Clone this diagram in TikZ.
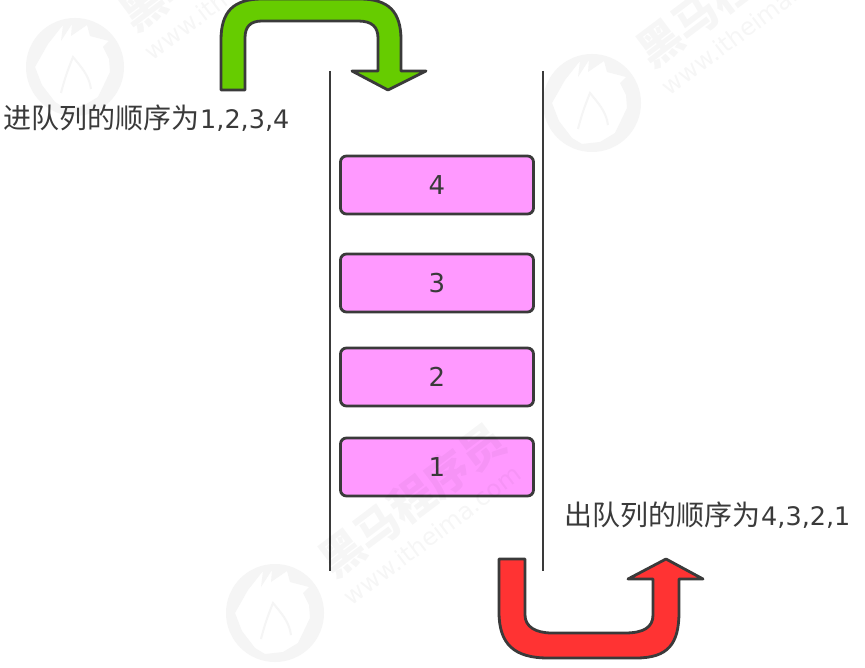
\documentclass[tikz,border=0pt]{standalone}
\usepackage{fontspec}
\setmainfont{DejaVu Sans}
\newfontfamily\cjk{Noto Sans CJK SC}
\definecolor{ink}{HTML}{3A3A3A}
\definecolor{boxpink}{HTML}{FF99FF}
\definecolor{arrgreen}{HTML}{66CC00}
\definecolor{arrred}{HTML}{FF3333}
\definecolor{wmgray}{HTML}{F5F5F5}
\tikzset{
  item/.style={draw=ink,line width=2.8pt,fill=boxpink,rounded corners=6pt,minimum width=193pt,minimum height=58pt,inner sep=0pt,text=ink,font=\fontsize{26}{26}\selectfont},
  wall/.style={draw=ink,line width=2.6pt},
  bent/.style={draw=ink,line width=2.8pt,line join=round},
  caption/.style={text=ink,inner sep=0pt,font=\fontsize{25.5}{30}\selectfont,anchor=west},
  wmtext/.style={text=black,text opacity=.035,rotate=37,inner sep=0pt,font=\cjk\bfseries\fontsize{44}{44}\selectfont},
  wmurl/.style={text=black,text opacity=.035,rotate=37,inner sep=0pt,font=\fontsize{24}{24}\selectfont},
  wmlogo/.pic={
    \fill[wmgray,even odd rule] (0,0) circle[radius=49]
      (-20,35) -- (-33,18) -- (-40,0) -- (-27,-23) -- (-12,-42) -- (-14,-26) -- (-3,-43) -- (-4,-31) -- (12,-42) -- (15,-31) -- (34,-26) -- (28,-20) -- (34,-8) -- (35,5) -- (23,30) -- (8,39) -- (-10,41) -- cycle;
    \draw[wmgray,line width=2pt] (-14,26) .. controls (-10,10) and (-6,0) .. (-2,-10) .. controls (6,0) and (14,8) .. (16,22);
  }
}
\newcommand{\cjktext}[1]{{\cjk\fontsize{28}{30}\selectfont #1}}
\begin{document}
\begin{tikzpicture}[x=1pt,y=-1pt]
\useasboundingbox (0,0) rectangle (865,668);
\fill[white] (0,0) rectangle (865,668);
% watermark logos
\pic at (75,67) {wmlogo};
\pic at (592,103) {wmlogo};
\pic at (275,613) {wmlogo};
% walls
\coordinate (lt) at (330,71); \coordinate (lb) at (330,571);
\coordinate (rt) at (543,71); \coordinate (rb) at (543,571);
\draw[wall] (lt) -- (lb);
\draw[wall] (rt) -- (rb);
% items
\node[item] (n4) at (437,185) {4};
\node[item] (n3) at (437,283) {3};
\node[item] (n2) at (437,377) {2};
\node[item] (n1) at (437,467) {1};
% arrows
\draw[bent,fill=arrgreen] (221,90) -- (221,40) .. controls (221,12) and (233,-1) .. (262,-1)
  -- (360,-1) .. controls (389,-1) and (401,12) .. (401,40) -- (401,71) -- (426,71) -- (388,90) -- (352,71) -- (378,71)
  -- (378,38) .. controls (378,27) and (372,21) .. (358,21) -- (262,21) .. controls (250,21) and (245,27) .. (245,38) -- (245,90) -- cycle;
\draw[bent,fill=arrred] (499,559) -- (499,612) .. controls (499,644) and (514,658) .. (548,658)
  -- (636,658) .. controls (668,658) and (679,644) .. (679,612) -- (679,579) -- (703,579) -- (666,559) -- (628,579) -- (653,579)
  -- (653,615) .. controls (653,627) and (644,633) .. (625,633) -- (552,633) .. controls (536,633) and (525,627) .. (525,615) -- (525,559) -- cycle;
% captions
\node[caption] (c1) at (3,118) {\cjktext{进队列的顺序为}\kern1pt 1,2,3,4};
\node[caption] (c2) at (564,515) {\cjktext{出队列的顺序为}\kern1pt 4,3,2,1};
% watermark texts
\node[wmtext] (w1) at (213,-46) {黑马程序员};
\node[wmurl] (w2) at (233,-10) {www.itheima.com};
\node[wmtext] (w3) at (730,-10) {黑马程序员};
\node[wmurl] (w4) at (750,25) {www.itheima.com};
\node[wmtext] (w5) at (412,500) {黑马程序员};
\node[wmurl] (w6) at (432,535) {www.itheima.com};
\end{tikzpicture}
\end{document}
